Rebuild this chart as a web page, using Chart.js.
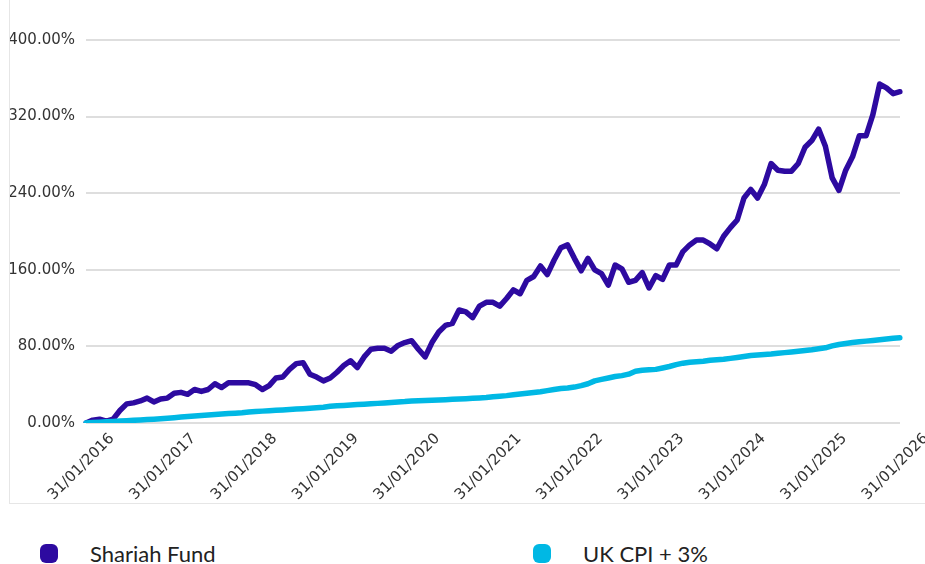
<!DOCTYPE html>
<html>
<head>
<meta charset="utf-8">
<script src="https://cdn.jsdelivr.net/npm/chart.js@4"></script>
<style>
  body { margin: 0; background: #fff; width: 925px; height: 564px; overflow: hidden; position: relative; }
  .frame { position: absolute; left: 9px; top: -2px; width: 940px; height: 504px; border: 1px solid #e6e6e6; }
  .chart-box { position: absolute; left: 10px; top: 0; width: 915px; height: 503px; }
  .legend-item { position: absolute; top: 541px; height: 24px; display: flex; align-items: center;
    font-family: Lato, sans-serif; font-size: 22px; color: #222; }
  .swatch { width: 18px; height: 19px; border-radius: 6px; margin-right: 32px; }
</style>
</head>
<body>
<div class="frame"></div>
<div class="chart-box"><canvas id="chart"></canvas></div>
<div class="legend-item" style="left:40px"><span class="swatch" style="background:#2d0aa0"></span>Shariah Fund</div>
<div class="legend-item" style="left:533px"><span class="swatch" style="background:#00b8e4"></span>UK CPI + 3%</div>

<script>
// cumulative performance (%), month ends from 31/01/2016 to 31/01/2026
const fund = [
  0, 3, 4, 2, 4, 13, 20, 21, 23, 26, 22, 25,
  26, 31, 32, 30, 35, 33, 35, 41, 37, 42, 42, 42,
  42, 40, 35, 39, 47, 48, 56, 62, 63, 51, 48, 44,
  47, 53, 60, 65, 58, 69, 77, 78, 78, 75, 81, 84,
  86, 77, 69, 84, 95, 102, 104, 118, 116, 110, 122, 126,
  126, 122, 130, 139, 135, 149, 153, 164, 155, 170, 183, 186,
  172, 159, 172, 160, 156, 144, 165, 161, 147, 149, 157, 141,
  154, 150, 165, 165, 179, 186, 191, 191, 187, 182, 195, 204,
  212, 235, 244, 235, 249, 271, 264, 263, 263, 271, 288, 295,
  307, 289, 256, 243, 264, 278, 300, 300, 322, 354, 350, 344,
  346
];

const cpi = [
  0, 0.4, 0.8, 1.2, 1.6, 2.0, 2.4, 2.8, 3.2, 3.6, 4.0, 4.5,
  5.0, 5.6, 6.2, 6.8, 7.3, 7.8, 8.3, 8.8, 9.3, 9.8, 10.3, 10.8,
  11.5, 12.0, 12.4, 12.8, 13.2, 13.7, 14.1, 14.5, 15.0, 15.5, 16.0, 16.5,
  17.5, 17.9, 18.3, 18.8, 19.2, 19.7, 20.1, 20.5, 21.0, 21.5, 22.0, 22.4,
  23.0, 23.3, 23.6, 23.8, 24.0, 24.3, 24.7, 25.0, 25.4, 25.8, 26.2, 26.6,
  27.5, 28.0, 28.6, 29.4, 30.2, 31.0, 31.8, 32.7, 33.8, 35.0, 36.0, 36.5,
  37.5, 39.0, 41.0, 44.0, 45.5, 47.0, 48.5, 49.5, 51.0, 54.0, 55.0, 55.5,
  56.0, 57.5, 59.0, 61.0, 62.5, 63.5, 64.0, 64.5, 65.5, 66.0, 66.5, 67.5,
  68.5, 69.5, 70.5, 71.0, 71.5, 72.0, 72.8, 73.5, 74.2, 75.0, 75.8, 76.5,
  77.5, 78.5, 80.5, 82.0, 83.0, 84.0, 84.8, 85.5, 86.2, 87.0, 87.8, 88.5,
  89.0
];

const yTicks = [0, 80, 160, 240, 320, 400];

// month-end labels
const months = [];
for (let i = 0; i <= 120; i++) {
  const d = new Date(Date.UTC(2016, i + 1, 0));
  const dd = String(d.getUTCDate()).padStart(2, '0');
  const mm = String(d.getUTCMonth() + 1).padStart(2, '0');
  months.push(dd + '/' + mm + '/' + d.getUTCFullYear());
}

Chart.defaults.font.family = "'DejaVu Sans', sans-serif";
Chart.defaults.font.size = 15;
Chart.defaults.color = '#333';

new Chart(document.getElementById('chart'), {
  type: 'line',
  data: {
    labels: months,
    datasets: [
      {
        label: 'Shariah Fund',
        data: fund,
        borderColor: '#2d0aa0',
        order: 1
      },
      {
        label: 'UK CPI + 3%',
        data: cpi,
        borderColor: '#00b8e4',
        order: 0
      }
    ]
  },
  options: {
    responsive: true,
    maintainAspectRatio: false,
    animation: false,
    layout: { padding: { top: 40, right: 25, left: 0, bottom: 0 } },
    elements: {
      line: { borderWidth: 5.5, tension: 0, borderCapStyle: 'round', borderJoinStyle: 'round', fill: false },
      point: { radius: 0 }
    },
    plugins: { legend: { display: false }, tooltip: { enabled: false } },
    scales: {
      x: {
        grid: { display: false, drawTicks: false },
        border: { display: false },
        afterFit: s => { s.height = 80; },
        ticks: {
          autoSkip: false,
          minRotation: 45,
          maxRotation: 45,
          labelOffset: 26,
          padding: 7,
          callback: (v, i) => (i % 12 === 0 ? months[i] : '')
        }
      },
      y: {
        min: yTicks[0],
        max: yTicks[yTicks.length - 1],
        afterFit: s => { s.width = 76; },
        afterBuildTicks: s => { s.ticks = yTicks.map(v => ({ value: v })); },
        grid: { color: '#dedede', lineWidth: 2, drawTicks: false },
        border: { display: false },
        ticks: {
          padding: 11,
          callback: v => v.toFixed(2) + '%'
        }
      }
    }
  }
});
</script>
</body>
</html>
